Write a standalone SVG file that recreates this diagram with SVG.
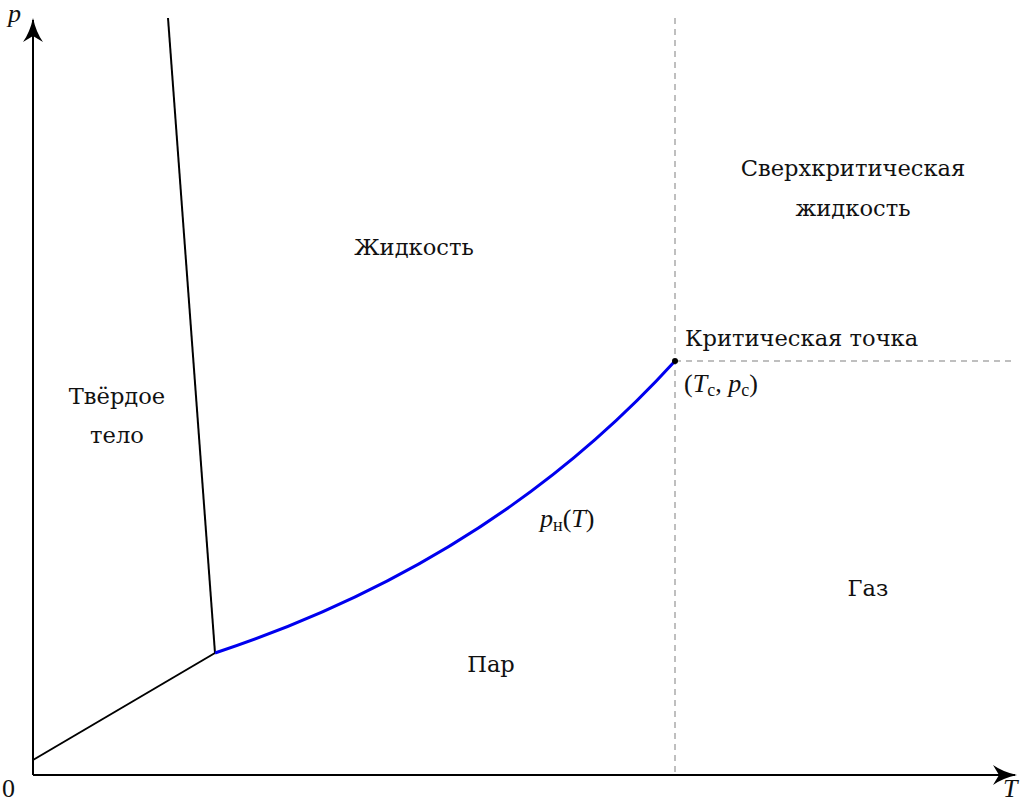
<svg xmlns="http://www.w3.org/2000/svg" width="1021" height="804" viewBox="0 0 1021 804">
<style>
.lbl{font-family:"DejaVu Serif","Liberation Serif",serif;font-size:22.6px;fill:#111}
.m{font-family:"Liberation Serif",serif;font-size:26px;fill:#111}
.mi{font-style:italic}
.sub{font-size:18px;font-style:normal}
.dash{stroke:#aaaaaa;stroke-width:1.5;stroke-dasharray:6,5;fill:none}
.ln{stroke:#000;stroke-width:2;fill:none}
</style>
<defs>
<marker id="arr" viewBox="0 0 24 22" refX="22" refY="11" markerWidth="24" markerHeight="22" markerUnits="userSpaceOnUse" orient="auto">
<path d="M0,1 Q10,8 24,11 Q10,14 0,21 L6,11 Z" fill="#000"/>
</marker>
</defs>
<rect width="1021" height="804" fill="#fff"/>
<g id="connectors">
<line class="dash" x1="675" y1="18" x2="675" y2="775"/>
<line class="dash" x1="675" y1="361" x2="1015" y2="361"/>
<line class="ln" x1="33" y1="775" x2="33" y2="20" stroke-width="3" marker-end="url(#arr)"/>
<line class="ln" x1="33" y1="775" x2="1015" y2="775" stroke-width="3" marker-end="url(#arr)"/>
<line class="ln" x1="168" y1="18" x2="215" y2="653"/>
<line class="ln" x1="33" y1="760" x2="215" y2="653"/>
<path d="M215,653 Q493,561 675,361" stroke="#0000ee" stroke-width="3" fill="none"/>
<circle cx="675" cy="361" r="3" fill="#000"/>
</g>
<g id="axis-labels">
<text class="m mi" x="8" y="22">p</text>
<text class="m mi" x="1003" y="797">T</text>
<text class="m" x="2" y="797">0</text>
</g>
<g id="solid"><text class="lbl" text-anchor="middle" x="117" y="404">Твёрдое</text><text class="lbl" text-anchor="middle" x="117" y="443">тело</text></g>
<g id="liquid"><text class="lbl" text-anchor="middle" x="414" y="255">Жидкость</text></g>
<g id="supercritical"><text class="lbl" text-anchor="middle" x="853" y="176">Сверхкритическая</text><text class="lbl" text-anchor="middle" x="853" y="216">жидкость</text></g>
<g id="critical"><text class="lbl" x="685" y="346">Критическая точка</text>
<text class="m" x="684" y="392">(<tspan class="mi">T</tspan><tspan class="sub" dy="4">c</tspan><tspan dy="-4">, </tspan><tspan class="mi">p</tspan><tspan class="sub" dy="4">c</tspan><tspan dy="-4">)</tspan></text></g>
<g id="curve-label"><text class="m" x="540" y="527"><tspan class="mi">p</tspan><tspan class="sub" dy="4">н</tspan><tspan dy="-4">(</tspan><tspan class="mi">T</tspan>)</text></g>
<g id="gas"><text class="lbl" text-anchor="middle" x="868" y="596">Газ</text></g>
<g id="vapor"><text class="lbl" text-anchor="middle" x="491" y="672">Пар</text></g>
</svg>
